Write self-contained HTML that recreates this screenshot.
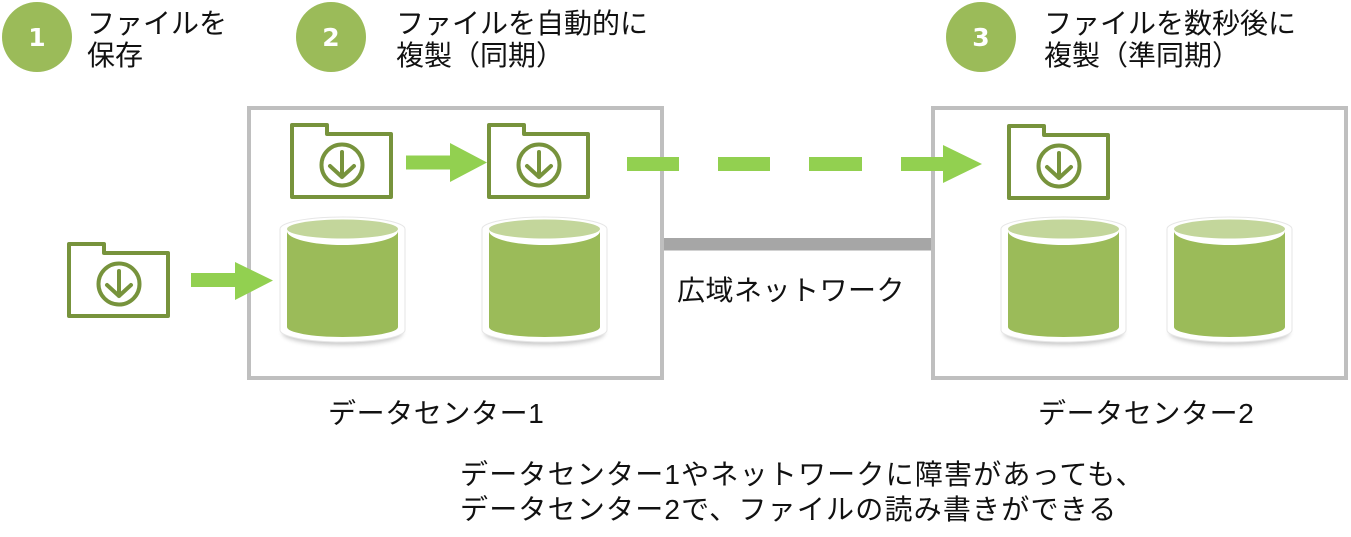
<!DOCTYPE html>
<html><head><meta charset="utf-8">
<style>
html,body{margin:0;padding:0;background:#fff;}
body{width:1351px;height:537px;position:relative;overflow:hidden;font-family:"Liberation Sans","Noto Sans CJK JP",sans-serif;color:#111;}
.t{position:absolute;white-space:nowrap;font-size:28px;font-family:"Liberation Sans","Noto Sans CJK JP",sans-serif;}
svg{position:absolute;left:0;top:0;}
</style></head><body>
<svg width="1351" height="537" viewBox="0 0 1351 537" xmlns="http://www.w3.org/2000/svg">
<defs>
<filter id="sh" x="-20%" y="-20%" width="140%" height="140%">
<feGaussianBlur stdDeviation="2.5"/>
</filter>
<g id="cyl">
<ellipse cx="62.5" cy="116" rx="60" ry="12" fill="#000" opacity="0.22" filter="url(#sh)"/>
<path d="M0,12 A62.5,12 0 0 1 125,12 V113 A62.5,12 0 0 1 0,113 Z" fill="#fff"/>
<path d="M0,12 A62.5,12 0 0 1 125,12 V113 A62.5,12 0 0 1 0,113 Z" fill="none" stroke="#e6e6e6" stroke-width="1"/>
<ellipse cx="62.5" cy="12" rx="55.5" ry="9.5" fill="#c3d69b"/>
<path d="M7,14 A55.5,14 0 0 0 118,14 V110 A55.5,10 0 0 1 7,110 Z" fill="#9bbb59"/>
</g>
<g id="fold" fill="none" stroke="#77933c" stroke-width="4" stroke-linejoin="round">
<path d="M2,74 V2 H37 V11 H101 V74 Z"/>
<circle cx="52" cy="42" r="20.5"/>
<path d="M52,29 V54 M40,43 L52,54 L64,43" stroke-linecap="round"/>
</g>
</defs>

<!-- number circles -->
<circle cx="37" cy="37" r="35" fill="#9bbb59"/>
<circle cx="331" cy="37" r="35" fill="#9bbb59"/>
<circle cx="981" cy="37" r="35" fill="#9bbb59"/>
<text x="37" y="46" text-anchor="middle" font-family="DejaVu Sans, Liberation Sans, sans-serif" font-weight="bold" font-size="25" fill="#fff">1</text>
<text x="331" y="46" text-anchor="middle" font-family="DejaVu Sans, Liberation Sans, sans-serif" font-weight="bold" font-size="25" fill="#fff">2</text>
<text x="981" y="46" text-anchor="middle" font-family="DejaVu Sans, Liberation Sans, sans-serif" font-weight="bold" font-size="25" fill="#fff">3</text>

<!-- boxes -->
<rect x="249" y="108" width="413" height="270" fill="none" stroke="#bfbfbf" stroke-width="4"/>
<rect x="933" y="108" width="413" height="270" fill="none" stroke="#bfbfbf" stroke-width="4"/>

<!-- network line -->
<rect x="664" y="238" width="267" height="12.5" fill="#a6a6a6"/>

<!-- cylinders -->
<use href="#cyl" x="280" y="217"/>
<use href="#cyl" x="482" y="217"/>
<use href="#cyl" x="1001" y="217"/>
<use href="#cyl" x="1167" y="217"/>

<!-- folders -->
<use href="#fold" x="290" y="123"/>
<use href="#fold" x="487" y="123"/>
<use href="#fold" x="1007" y="124"/>
<use href="#fold" x="67" y="242"/>

<!-- arrows -->
<g fill="#92d050">
<rect x="191" y="273" width="45" height="14"/>
<polygon points="235,262 273,280.5 235,300"/>
<rect x="406" y="155.5" width="45" height="14"/>
<polygon points="450,143 487,162.5 450,182"/>
<rect x="627" y="157" width="52" height="14"/>
<rect x="718" y="157" width="52" height="14"/>
<rect x="809" y="157" width="53" height="14"/>
<rect x="901" y="157" width="43" height="14"/>
<polygon points="943,145 982,164 943,183"/>
</g>
</svg>

<div class="t" style="left:87px;top:8px;line-height:31.5px;">ファイルを<br>保存</div>
<div class="t" style="left:396px;top:8px;line-height:31.5px;">ファイルを自動的に<br>複製（同期）</div>
<div class="t" style="left:1044px;top:8px;line-height:31.5px;">ファイルを数秒後に<br>複製（準同期）</div>

<div class="t" style="left:677px;top:277px;line-height:28px;letter-spacing:0.5px;">広域ネットワーク</div>
<div class="t" style="left:328px;top:400px;line-height:28px;letter-spacing:0.6px;">データセンター1</div>
<div class="t" style="left:1038px;top:400px;line-height:28px;letter-spacing:0.6px;">データセンター2</div>

<div class="t" style="left:460px;top:457px;line-height:35px;letter-spacing:1.2px;">データセンター1やネットワークに障害があっても、<br>データセンター2で、ファイルの読み書きができる</div>
</body></html>
